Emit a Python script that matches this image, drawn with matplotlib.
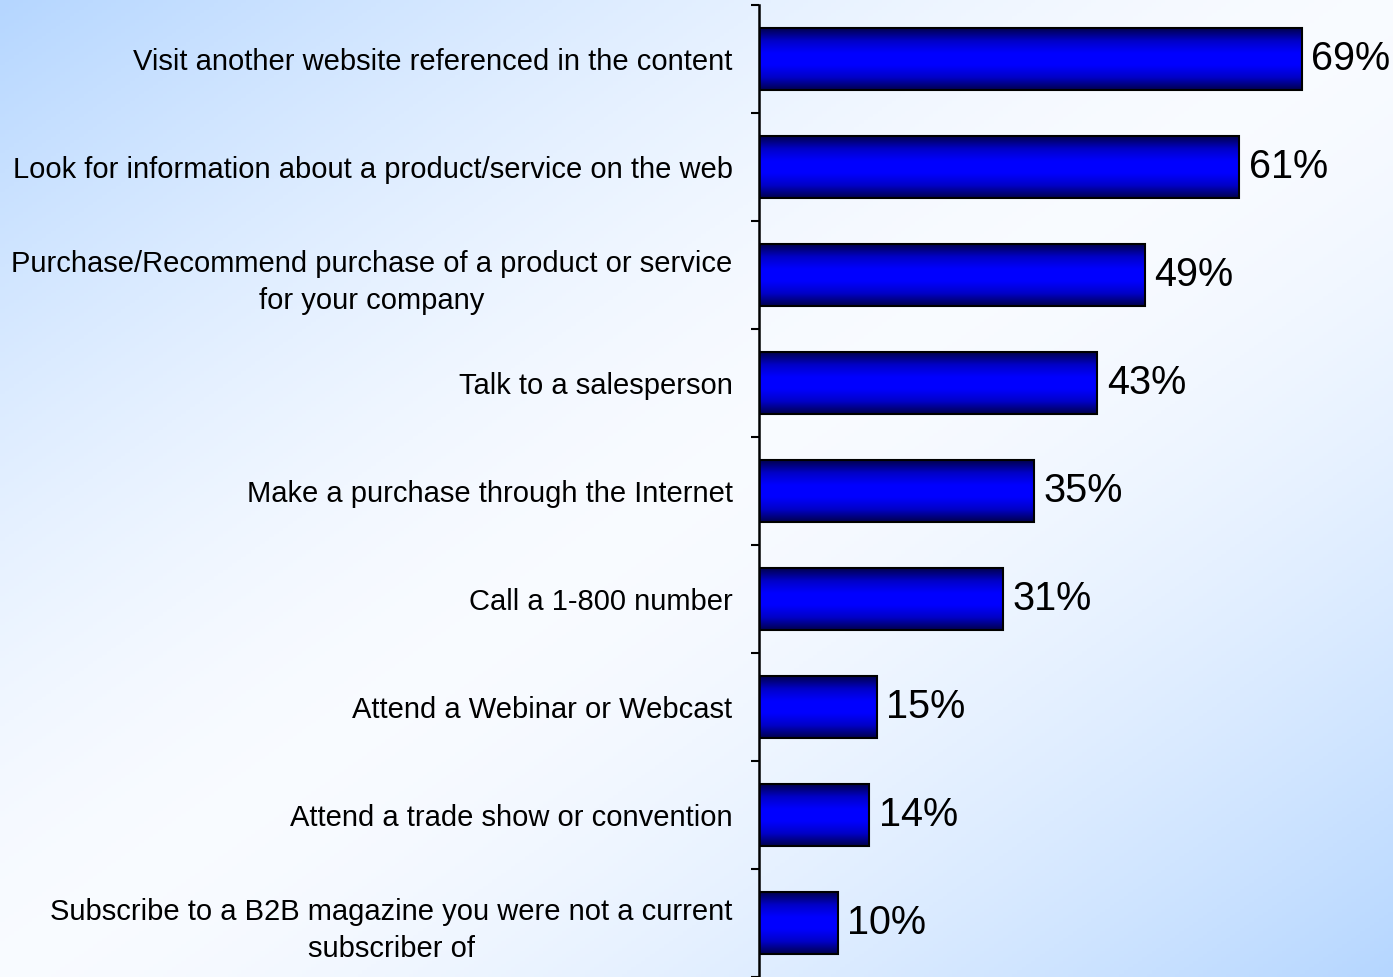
import numpy as np
import matplotlib.pyplot as plt
from matplotlib.colors import LinearSegmentedColormap

plt.rcParams['font.family'] = ['Liberation Sans', 'DejaVu Sans']

categories = [
    "Visit another website referenced in the content",
    "Look for information about a product/service on the web",
    "Purchase/Recommend purchase of a product or service\nfor your company",
    "Talk to a salesperson",
    "Make a purchase through the Internet",
    "Call a 1-800 number",
    "Attend a Webinar or Webcast",
    "Attend a trade show or convention",
    "Subscribe to a B2B magazine you were not a current\nsubscriber of",
]
values = [69, 61, 49, 43, 35, 31, 15, 14, 10]

W, H = 1393, 977
fig = plt.figure(figsize=(W / 100, H / 100), dpi=100)

# diagonal background: light blue in two corners, near white across the middle
bg = fig.add_axes([0, 0, 1, 1], zorder=0)
gx, gy = np.meshgrid(np.linspace(0, 1, 300), np.linspace(0, 1, 300))
d = (np.abs((gx + gy) / 2 - 0.5) * 2) ** 1.6
c_white = np.array([0.975, 0.985, 1.0])
c_blue = np.array([0.71, 0.84, 1.0])
bg.imshow(c_white * (1 - d[..., None]) + c_blue * d[..., None],
          extent=(0, 1, 0, 1), aspect='auto', origin='upper')
bg.set_axis_off()

ax = fig.add_axes([759 / W, 0.0, 1 - 759 / W, 1 - 5 / H], zorder=1)
ax.patch.set_visible(False)

n = len(categories)
pos = np.arange(n)
bar_h = 0.565

# bar shading: dark navy at top and bottom edges, bright blue in the middle
bar_cmap = LinearSegmentedColormap.from_list(
    'barshade', ['#000050', '#0000c8', '#0000ff', '#0000ff', '#0000c8', '#000050'])
shade = np.linspace(0, 1, 64).reshape(-1, 1)
for p, v in zip(pos, values):
    ax.imshow(shade, cmap=bar_cmap, aspect='auto', interpolation='bilinear',
              extent=(0, v, p + bar_h / 2, p - bar_h / 2), zorder=2)
ax.barh(pos, values, height=bar_h, fill=False, edgecolor='black',
        linewidth=1.5, zorder=3)

for p, v in zip(pos, values):
    ax.text(v + 1.2, p, f"{v}%", va='center', ha='left', fontsize=28.5,
            color='black', zorder=4)

ax.set_xlim(0, (W - 759) / 7.87)
ax.set_ylim(n - 0.5, -0.5)

ax.set_yticks(pos, categories, fontsize=21, multialignment='center',
              linespacing=1.4)
ax.tick_params(axis='y', which='major', length=0, pad=19)
ax.set_yticks(np.arange(n + 1) - 0.5, minor=True)
ax.tick_params(axis='y', which='minor', length=5.5, width=1.5, direction='out')
ax.set_xticks([])

for s in ['top', 'right', 'bottom']:
    ax.spines[s].set_visible(False)
ax.spines['left'].set_linewidth(1.8)

fig.savefig('out.png', dpi=100)
